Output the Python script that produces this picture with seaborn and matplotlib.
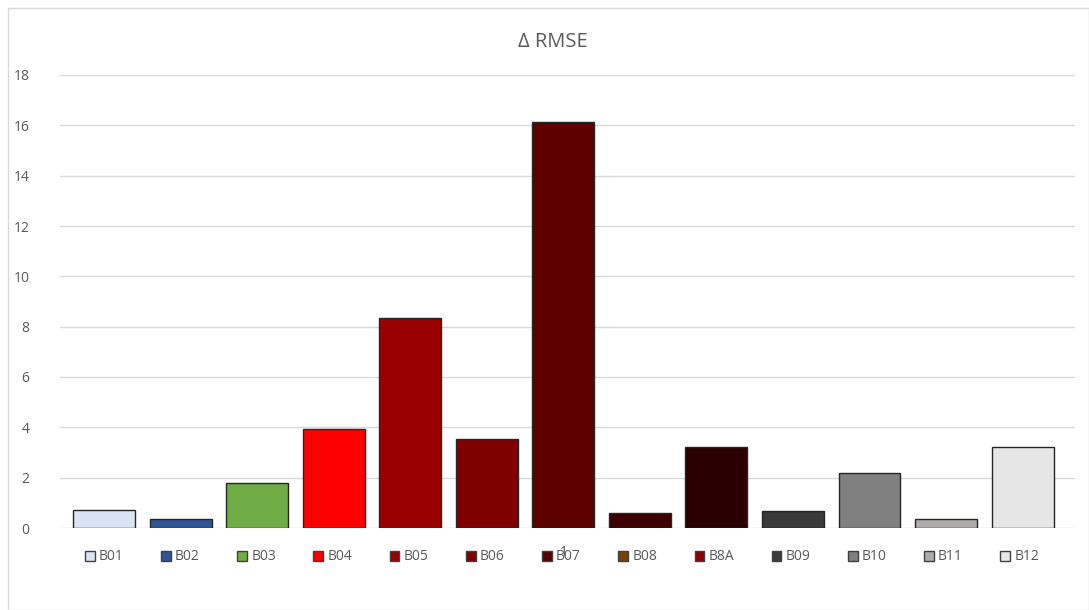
import pandas as pd
import matplotlib.pyplot as plt
import seaborn as sns
from matplotlib.patches import Patch, Rectangle

# data
bands = ["B01", "B02", "B03", "B04", "B05", "B06", "B07", "B08", "B8A", "B09", "B10", "B11", "B12"]
delta_rmse = [0.72, 0.36, 1.78, 3.93, 8.36, 3.55, 16.12, 0.58, 3.22, 0.68, 2.17, 0.35, 3.22]
category = ["1"] * len(bands)

bar_colors = ["#DAE3F3", "#2F5597", "#70AD47", "#FF0000", "#990000", "#800000", "#5C0000",
              "#3F0000", "#2B0000", "#3A3A3A", "#808080", "#AFABAB", "#E7E6E6"]
legend_colors = ["#DAE3F3", "#2F5597", "#70AD47", "#FF0000", "#990000", "#800000", "#5C0000",
                 "#7F3F00", "#8B0000", "#3A3A3A", "#808080", "#AFABAB", "#E7E6E6"]

df = pd.DataFrame({"cat": category, "band": bands, "value": delta_rmse})

sns.set_style("white")
plt.rcParams["font.family"] = ["Open Sans", "DejaVu Sans"]
text_col = "#595959"

fig = plt.figure(figsize=(10.89, 6.10), dpi=100)
ax = fig.add_axes([60 / 1089, 1 - 528 / 610, 1015 / 1089, (528 - 75) / 610])

sns.barplot(data=df, x="cat", y="value", hue="band", hue_order=bands,
            palette=bar_colors, saturation=1, width=0.98, gap=0.19, edgecolor="#262626",
            linewidth=1.0, legend=False, ax=ax)

ax.set_ylim(0, 18)
ax.set_yticks(range(0, 19, 2))
ax.set_xlim(-0.496, 0.504)
ax.yaxis.grid(True, color="#D9D9D9", linewidth=1.0)
ax.set_axisbelow(True)
for s in ax.spines.values():
    s.set_visible(False)
ax.tick_params(axis="both", length=0, labelsize=10, colors=text_col)
ax.tick_params(axis="y", pad=22)
ax.tick_params(axis="x", pad=12)
ax.set_xlabel("")
ax.set_ylabel("")

fig.text(0.508, 1 - 42 / 610, "Δ RMSE", ha="center", va="center", fontsize=14.5, color=text_col)

handles = [Patch(facecolor=c, edgecolor="#404040", linewidth=1.0) for c in legend_colors]
fig.legend(handles, bands, loc="center", bbox_to_anchor=(0.516, 1 - 557 / 610), ncol=13,
           frameon=False, fontsize=10, labelcolor=text_col, handlelength=0.7, handleheight=0.7,
           handletextpad=0.3, columnspacing=2.7)

fig.patches.append(Rectangle((8 / 1089, 0), 1 - 8 / 1089, 1 - 8 / 610, transform=fig.transFigure,
                             fill=False, edgecolor="#D9D9D9", linewidth=1.0))

fig.savefig("out.png", dpi=100)
